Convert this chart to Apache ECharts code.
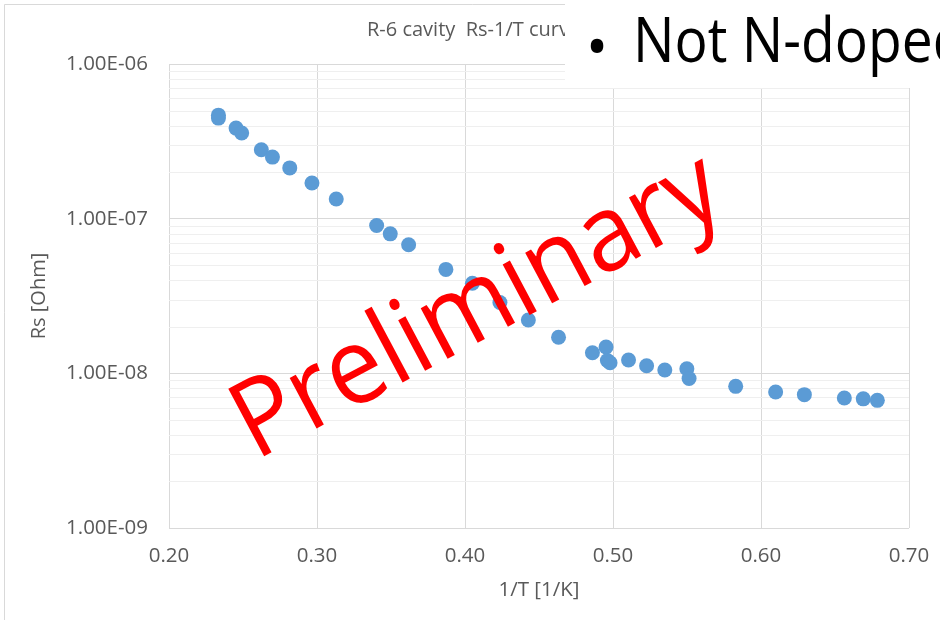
<!DOCTYPE html>
<html>
<head>
<meta charset="utf-8">
<script src="https://cdn.jsdelivr.net/npm/echarts@6/dist/echarts.min.js"></script>
<style>
html,body{margin:0;padding:0;background:#fff;}
#c{width:940px;height:620px;}
</style>
</head>
<body>
<div id="c"></div>
<script>
// ---- data ----
const invT = [0.2334,0.2334,0.2453,0.2491,0.2624,0.2699,0.2816,0.2966,0.3130,0.3403,0.3495,0.3619,0.3871,0.4050,0.4236,0.4428,0.4632,0.4861,0.4953,0.4962,0.4980,0.5105,0.5227,0.5350,0.5499,0.5514,0.5829,0.6099,0.6293,0.6563,0.6691,0.6786];
const rs = [4.67e-7,4.47e-7,3.85e-7,3.58e-7,2.79e-7,2.50e-7,2.13e-7,1.70e-7,1.34e-7,9.04e-8,7.98e-8,6.78e-8,4.70e-8,3.82e-8,2.87e-8,2.21e-8,1.71e-8,1.36e-8,1.48e-8,1.21e-8,1.17e-8,1.22e-8,1.12e-8,1.05e-8,1.07e-8,9.25e-9,8.24e-9,7.58e-9,7.28e-9,6.93e-9,6.84e-9,6.69e-9];
const xTicks = [0.2,0.3,0.4,0.5,0.6,0.7];
const yMajor = [1e-9,1e-8,1e-7,1e-6];
const yMinor = [2e-9,3e-9,4e-9,5e-9,6e-9,7e-9,8e-9,9e-9,
                2e-8,3e-8,4e-8,5e-8,6e-8,7e-8,8e-8,9e-8,
                2e-7,3e-7,4e-7,5e-7,6e-7,7e-7,8e-7,9e-7];
const titleText = 'R-6 cavity  Rs-1/T curve';
const xName = '1/T [1/K]';
const yName = 'Rs [Ohm]';
const bulletText = 'Not N-doped';
const watermark = 'Preliminary';

const FONT = '"Open Sans", "Noto Sans", sans-serif';
const chart = echarts.init(document.getElementById('c'), null, {renderer:'canvas'});

function fmtE(v){
  const e = Math.round(Math.log10(v));
  return '1.00E' + (e < 0 ? '-' : '+') + String(Math.abs(e)).padStart(2,'0');
}

const xMin = xTicks[0], xMax = xTicks[xTicks.length-1];

chart.setOption({
  animation:false,
  backgroundColor:'#fff',
  title:{
    text:titleText, left:362, top:15,
    textStyle:{fontFamily:FONT, fontSize:20, fontWeight:'normal', color:'#595959'}
  },
  grid:{left:169, top:64, right:31, bottom:92, containLabel:false},
  xAxis:{
    type:'value', min:xMin, max:xMax, interval:0.1,
    name:xName, nameLocation:'middle', nameGap:52,
    nameTextStyle:{fontFamily:FONT, fontSize:20.5, color:'#595959'},
    axisLine:{show:false}, axisTick:{show:false},
    axisLabel:{fontFamily:FONT, fontSize:20.5, color:'#595959', margin:18,
      formatter:v=>v.toFixed(2)},
    splitLine:{show:true, lineStyle:{color:'#d9d9d9', width:1}}
  },
  yAxis:{
    type:'log', logBase:10, min:yMajor[0], max:yMajor[yMajor.length-1],
    name:yName, nameLocation:'middle', nameGap:120, nameRotate:90,
    nameTextStyle:{fontFamily:FONT, fontSize:20, color:'#595959'},
    axisLine:{show:false}, axisTick:{show:false},
    axisLabel:{fontFamily:FONT, fontSize:20.5, color:'#595959', margin:21, formatter:fmtE},
    splitLine:{show:true, lineStyle:{color:'#d9d9d9', width:1}}
  },
  series:[
    {
      type:'custom', z:1, silent:true,
      data:yMinor.map(v=>[v]),
      encode:{y:0},
      renderItem:function(params, api){
        const v = api.value(0);
        const p1 = api.coord([xMin, v]);
        const p2 = api.coord([xMax, v]);
        const y = Math.round(p1[1]) + 0.5;
        return {type:'line', silent:true,
          shape:{x1:p1[0], y1:y, x2:p2[0], y2:y},
          style:{stroke:'#efefef', lineWidth:1}};
      }
    },
    {
      type:'scatter', z:3,
      symbolSize:15,
      itemStyle:{color:'#5b9bd5', opacity:1},
      data:invT.map((x,i)=>[x, rs[i]])
    }
  ],
  graphic:[
    {type:'rect', z:-1, silent:true, shape:{x:4.5,y:4.5,width:1200,height:1200},
      style:{fill:'none', stroke:'#d9d9d9', lineWidth:1}},
    {type:'rect', z:50, silent:true, shape:{x:565,y:0,width:400,height:88},
      style:{fill:'#ffffff', stroke:null}},
    {type:'text', z:51, silent:true, x:597, y:51,
      style:{text:'•', font:'60px '+FONT, fill:'#000', textAlign:'center', textVerticalAlign:'middle'}},
    {type:'text', z:51, silent:true, x:633, y:44, scaleX:0.89,
      style:{text:bulletText, font:'62px '+FONT, fill:'#000', textAlign:'left', textVerticalAlign:'middle'}},
    {type:'text', z:60, silent:true, x:478, y:308, rotation:28*Math.PI/180, scaleX:0.94,
      style:{text:watermark, font:'107px '+FONT, fill:'#ff0000', textAlign:'center', textVerticalAlign:'middle'}}
  ]
});
</script>
</body>
</html>
